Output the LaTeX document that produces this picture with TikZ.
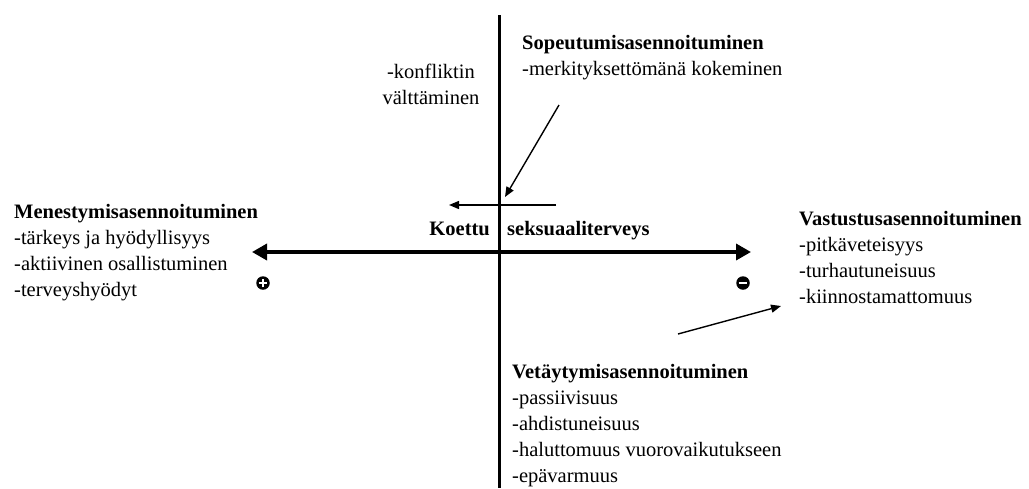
\documentclass[tikz,border=0pt]{standalone}
\usepackage{fontspec}
\setmainfont{Liberation Serif}
\usetikzlibrary{arrows.meta}
\begin{document}
\begin{tikzpicture}[x=1pt,y=-1pt,
  txt/.style={anchor=base west, inner sep=0pt, font=\fontsize{20.5}{26}\selectfont},
  ttl/.style={txt, font=\fontsize{20.5}{26}\selectfont\bfseries},
  axis/.style={line width=3pt},
  mainarrow/.style={line width=3.5pt, {Triangle[length=15pt,width=16pt]}-{Triangle[length=15pt,width=16pt]}},
  thinarrow/.style={line width=1.4pt, -{Triangle[length=10pt,width=8pt]}},
  sign/.style={circle, fill=black, minimum size=13.5pt, inner sep=0pt},
  signbar/.style={white, line width=2.8pt}]
\useasboundingbox (0,0) rectangle (1029,488);
\fill[white] (0,0) rectangle (1029,488);

% axes
\coordinate (vt) at (499,15);
\coordinate (vb) at (499,488);
\draw[axis] (vt) -- (vb);
\coordinate (hl) at (252,252);
\coordinate (hr) at (751,252);
\draw[mainarrow] (hl) -- (hr);

% top
\node[ttl] (sopT) at (522,49) {Sopeutumisasennoituminen};
\node[txt] (sop1) at (522,75) {-merkityksettömänä kokeminen};
\node[txt, anchor=base] (konf1) at (431,78) {-konfliktin};
\node[txt, anchor=base] (konf2) at (431,104) {välttäminen};

% left
\node[ttl] (menT) at (14,218) {Menestymisasennoituminen};
\node[txt] (men1) at (14,244) {-tärkeys ja hyödyllisyys};
\node[txt] (men2) at (14,270) {-aktiivinen osallistuminen};
\node[txt] (men3) at (14,296) {-terveyshyödyt};

% centre label
\node[ttl, anchor=base east] (koettu) at (490,235) {Koettu};
\node[ttl] (seks) at (507,235) {seksuaaliterveys};

% right
\node[ttl] (vasT) at (799,225) {Vastustusasennoituminen};
\node[txt] (vas1) at (799,251) {-pitkäveteisyys};
\node[txt] (vas2) at (799,277) {-turhautuneisuus};
\node[txt] (vas3) at (799,303) {-kiinnostamattomuus};

% bottom
\node[ttl] (vetT) at (512,378) {Vetäytymisasennoituminen};
\node[txt] (vet1) at (512,404) {-passiivisuus};
\node[txt] (vet2) at (512,430) {-ahdistuneisuus};
\node[txt] (vet3) at (512,456) {-haluttomuus vuorovaikutukseen};
\node[txt] (vet4) at (512,482) {-epävarmuus};

% small arrows
\coordinate (a1s) at (556,205);
\coordinate (a1e) at (449,205);
\draw[thinarrow] (a1s) -- (a1e);
\coordinate (a2s) at (559,105);
\coordinate (a2e) at (505,197);
\draw[thinarrow] (a2s) -- (a2e);
\coordinate (a3s) at (678,334);
\coordinate (a3e) at (781,306);
\draw[thinarrow] (a3s) -- (a3e);

% signs
\node[sign] (plus) at (263,283) {};
\draw[signbar] ([xshift=-4.4pt]plus.center) -- ([xshift=4.4pt]plus.center);
\draw[signbar] ([yshift=-4.4pt]plus.center) -- ([yshift=4.4pt]plus.center);
\node[sign] (minus) at (743,283) {};
\draw[signbar] ([xshift=-4.4pt]minus.center) -- ([xshift=4.4pt]minus.center);
\end{tikzpicture}
\end{document}
